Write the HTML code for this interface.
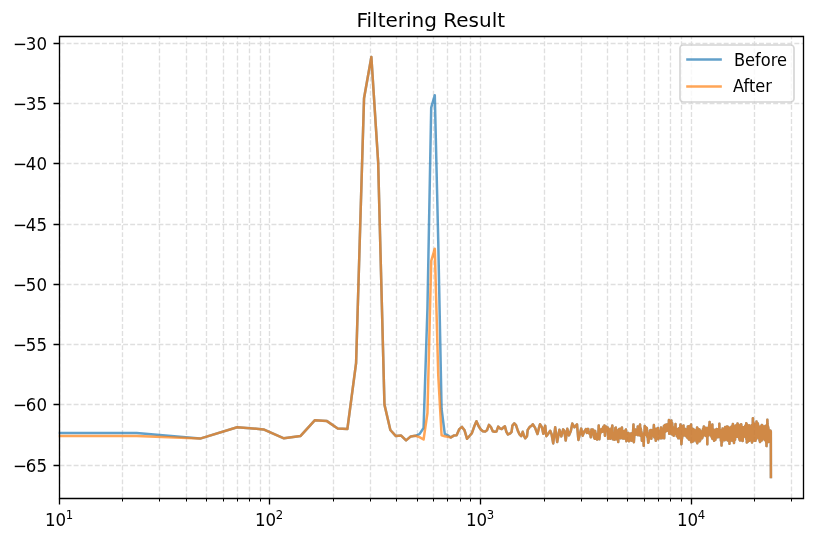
<!DOCTYPE html>
<html lang="en"><head><meta charset="utf-8"><title>Filtering Result</title>
<style>html,body{margin:0;padding:0;background:#fff}body{width:814px;height:542px;overflow:hidden}</style></head>
<body>
<svg width="814" height="542" viewBox="0 0 814 542" style="display:block" font-family="'DejaVu Sans','Liberation Sans',sans-serif">
<rect width="814" height="542" fill="#fff"/>
<defs><clipPath id="ax"><rect x="58.73" y="36.0" width="744.27" height="462.30"/></clipPath></defs>
<g clip-path="url(#ax)" stroke="#b0b0b0" stroke-opacity="0.4" stroke-width="1.333" stroke-dasharray="4.933 2.133" fill="none">
<path d="M59.5 498.5V36.5M269.5 498.5V36.5M480.5 498.5V36.5M691.5 498.5V36.5M122.5 498.5V36.5M159.5 498.5V36.5M186.5 498.5V36.5M206.5 498.5V36.5M223.5 498.5V36.5M237.5 498.5V36.5M249.5 498.5V36.5M260.5 498.5V36.5M333.5 498.5V36.5M370.5 498.5V36.5M396.5 498.5V36.5M417.5 498.5V36.5M433.5 498.5V36.5M447.5 498.5V36.5M460.5 498.5V36.5M470.5 498.5V36.5M544.5 498.5V36.5M581.5 498.5V36.5M607.5 498.5V36.5M627.5 498.5V36.5M644.5 498.5V36.5M658.5 498.5V36.5M670.5 498.5V36.5M681.5 498.5V36.5M754.5 498.5V36.5M791.5 498.5V36.5M59.5 43.5H803.5M59.5 103.5H803.5M59.5 163.5H803.5M59.5 224.5H803.5M59.5 284.5H803.5M59.5 344.5H803.5M59.5 404.5H803.5M59.5 465.5H803.5"/>
</g>
<g clip-path="url(#ax)">
<path d="M0.00 432.90L136.67 432.90L200.09 438.60L237.19 427.20L263.51 429.40L283.93 438.30L300.62 435.90L314.72 420.30L326.94 421.10L337.72 428.50L347.36 429.10L356.08 363.20L364.04 98.30L371.36 57.00L378.14 162.00L384.46 404.60L390.36 430.00L395.91 436.10L401.14 435.60L406.09 440.40L410.78 436.40L415.24 435.80L419.50 434.10L423.57 428.00L427.46 308.00L431.20 107.70L434.79 95.20L438.24 241.00L441.57 409.00L444.78 433.80L447.88 435.30L450.88 437.40L453.79 435.60L456.60 435.30L459.33 429.10L461.99 426.90L464.56 430.30L467.07 438.80L469.51 436.00L471.89 433.20L474.20 426.60L476.46 421.20L478.67 426.20L480.82 429.50L482.93 431.20L484.98 431.60L486.99 430.30L488.96 424.90L490.89 427.00L492.77 431.20L494.62 431.70L496.43 431.60L498.21 426.60L499.95 428.30L501.66 429.10L503.34 427.50L504.90 426.30L506.40 431.80L508.00 434.50L510.20 433.30L511.60 431.80L512.40 425.60L514.30 423.40L516.00 425.10L517.90 430.90L519.60 434.50L521.20 436.20L522.70 431.80L524.10 436.20L525.30 438.30L527.00 436.20L527.70 429.90L529.90 426.80L531.80 425.60L532.80 424.30L535.00 427.60L537.50 434.00L538.90 428.20L540.00 424.30L541.90 427.10L543.30 433.70L545.20 425.70L546.30 436.20L548.30 433.70L550.20 430.70L551.60 434.30L553.20 443.40L555.20 427.30L557.20 442.00L559.40 429.70L561.30 436.40L563.20 429.40L564.30 430.80L565.70 440.50L567.30 428.80L569.00 435.40L570.80 431.00L572.30 423.60L574.50 427.30L577.00 424.40L578.40 440.00L581.20 428.60L582.60 435.80L584.30 431.50L585.90 429.10L586.85 432.86L587.52 429.10L588.18 429.02L588.83 433.30L589.49 432.18L590.13 433.58L590.77 437.28L591.41 429.60L592.05 434.16L592.67 429.51L593.30 430.03L593.92 437.13L594.54 438.65L595.15 431.01L595.76 438.78L596.36 433.68L596.96 439.58L597.56 437.12L598.15 438.20L598.74 425.53L599.32 439.28L599.90 434.44L600.48 429.68L601.05 432.18L601.62 429.02L602.19 431.80L602.75 431.61L603.31 426.84L603.87 430.14L604.42 425.53L604.97 435.79L605.52 427.72L606.06 426.52L606.60 430.98L607.14 428.07L607.67 427.52L608.20 438.78L608.73 428.84L609.25 437.16L609.77 430.01L610.29 438.78L610.81 434.52L611.32 428.55L611.83 428.89L612.34 425.53L612.84 439.28L613.34 438.63L613.84 433.97L614.34 439.78L614.83 437.66L615.32 428.07L615.81 427.52L616.29 439.30L616.78 435.16L617.26 434.03L617.74 430.62L618.21 441.97L618.68 429.97L619.15 428.98L619.62 436.87L620.09 429.02L620.55 438.23L621.01 433.53L621.47 428.85L621.93 427.52L622.38 438.28L622.83 437.75L623.28 438.53L623.73 432.93L624.18 431.01L624.62 438.46L625.06 436.77L625.50 434.07L625.93 429.51L626.37 441.27L626.80 434.70L627.23 435.83L627.66 435.59L628.09 432.94L628.51 433.00L628.94 441.27L629.36 437.10L629.77 438.32L630.19 434.93L630.61 439.59L631.02 433.50L631.43 440.77L631.84 438.71L632.25 433.20L632.65 440.38L633.06 431.84L633.46 424.53L633.86 442.27L634.26 436.02L634.66 433.68L635.05 429.94L635.44 429.51L635.84 434.79L636.23 434.56L636.62 430.63L637.00 432.01L637.39 434.11L637.77 426.52L638.15 435.15L638.53 430.71L638.91 432.04L639.29 428.81L639.67 432.33L640.04 424.53L640.41 435.79L640.78 428.58L641.15 431.05L641.52 432.28L641.89 440.77L642.25 439.18L642.62 436.75L642.98 435.22L643.34 434.00L643.70 445.76L644.06 433.21L644.42 434.87L644.77 426.03L645.12 428.14L645.48 427.05L645.83 428.99L646.18 430.58L646.53 435.31L646.87 428.02L647.22 436.79L647.56 433.49L647.91 439.26L648.25 442.77L648.59 441.55L648.93 433.35L649.27 437.77L649.61 436.47L649.94 430.61L650.28 431.92L650.61 433.46L650.94 430.01L651.27 438.78L651.60 435.84L651.93 435.00L652.26 432.54L652.58 429.91L652.91 435.46L653.23 432.70L653.56 430.97L653.88 425.03L654.20 436.79L654.52 437.58L654.84 436.39L655.15 432.55L655.47 432.50L655.78 440.77L656.10 428.79L656.41 430.89L656.72 432.16L657.03 431.75L657.34 433.18L657.65 433.53L657.96 428.02L658.27 439.28L658.57 430.60L658.88 436.04L659.18 431.44L659.48 436.97L659.78 431.84L660.08 433.03L660.38 431.31L660.68 438.25L660.98 427.52L661.28 438.28L661.57 436.04L661.87 429.17L662.16 428.76L662.45 432.39L662.74 437.08L663.04 437.92L663.33 436.45L663.61 428.63L663.90 426.03L664.19 438.28L664.48 425.55L664.76 430.45L665.05 425.03L665.33 431.80L665.61 427.35L665.90 424.81L666.18 429.10L666.46 427.38L666.74 430.33L667.01 424.53L667.29 430.80L667.57 424.69L667.85 425.29L668.12 424.30L668.39 424.79L668.67 429.38L668.94 420.04L669.21 433.80L669.48 430.92L669.75 429.04L670.02 432.11L670.29 426.22L670.56 431.27L670.83 430.56L671.09 424.20L671.36 420.54L671.62 434.29L671.89 422.71L672.15 423.09L672.41 427.07L672.68 426.58L672.94 434.80L673.20 433.67L673.46 428.02L673.72 435.79L673.97 433.83L674.23 432.00L674.49 429.21L674.74 433.93L675.00 431.30L675.25 428.43L675.51 424.03L675.76 433.80L676.01 431.77L676.27 428.67L676.52 430.40L676.77 435.90L677.02 430.40L677.27 435.56L677.51 436.82L677.76 435.97L678.01 429.02L678.25 438.28L678.50 431.96L678.74 436.46L678.99 430.31L679.23 428.27L679.48 428.19L679.72 430.19L679.96 437.93L680.20 428.42L680.44 424.53L680.68 438.78L680.92 428.69L681.16 437.09L681.40 444.26L681.63 441.24L681.87 439.00L682.11 437.66L682.34 426.87L682.58 435.86L682.81 425.89L683.05 429.80L683.28 428.27L683.51 425.53L683.74 435.29L683.98 433.19L684.21 431.12L684.44 431.15L684.67 433.38L684.89 430.25L685.12 433.38L685.35 429.02L685.58 435.79L685.81 434.28L686.03 430.98L686.26 435.40L686.48 436.37L686.71 433.13L686.93 437.13L687.15 431.92L687.38 434.83L687.60 437.92L687.82 426.52L688.04 438.28L688.26 437.31L688.48 426.31L688.70 435.71L688.92 439.48L689.14 428.05L689.36 426.50L689.58 427.06L689.79 439.40L690.01 426.60L690.23 433.16L690.44 425.77L690.66 440.32L690.87 429.08L691.09 424.53L691.30 442.27L691.51 430.23L691.72 440.31L691.94 428.59L692.15 435.48L692.36 441.67L692.57 437.97L692.78 435.22L692.99 437.87L693.20 429.21L693.41 429.02L693.62 441.27L693.82 438.18L694.03 440.00L694.24 438.12L694.44 438.78L694.65 433.33L694.85 430.51L695.06 438.28L695.26 433.73L695.47 432.27L695.67 430.52L695.88 431.50L696.08 431.65L696.28 432.63L696.48 441.55L696.68 435.58L696.88 430.03L697.08 427.52L697.28 443.27L697.48 436.28L697.68 431.26L697.88 439.04L698.08 429.49L698.28 441.20L698.48 428.96L698.67 433.95L698.87 436.74L699.06 438.20L699.26 438.41L699.46 429.51L699.65 441.27L699.85 440.00L700.04 430.47L700.23 440.23L700.43 434.30L700.62 431.37L700.81 436.86L701.00 431.35L701.20 432.09L701.39 435.97L701.58 437.77L701.77 437.03L701.96 431.51L702.15 438.28L702.34 433.96L702.53 431.80L702.71 436.77L702.90 429.53L703.09 428.81L703.28 430.28L703.46 429.86L703.65 429.73L703.84 426.52L704.02 434.79L704.21 429.87L704.39 428.15L704.58 429.47L704.76 427.42L704.95 434.94L705.13 435.33L705.31 434.39L705.50 431.08L705.68 435.84L705.86 430.21L706.04 434.00L706.22 428.73L706.40 428.02L706.58 436.29L706.77 432.92L706.94 436.04L707.12 428.85L707.30 444.26L707.48 428.39L707.66 427.92L707.84 428.31L708.02 435.82L708.19 433.04L708.37 429.80L708.55 428.57L708.73 427.77L708.90 428.46L709.08 427.41L709.25 424.91L709.43 433.90L709.60 422.04L709.78 433.80L709.95 433.23L710.12 429.45L710.30 430.06L710.47 425.73L710.64 435.43L710.82 428.10L710.99 435.75L711.16 426.28L711.33 436.10L711.50 436.70L711.67 429.99L711.84 434.32L712.02 425.34L712.19 438.40L712.35 424.53L712.52 438.78L712.69 434.90L712.86 433.44L713.03 435.61L713.20 435.69L713.37 435.75L713.53 432.45L713.70 435.83L713.87 430.01L714.03 440.77L714.20 438.86L714.37 430.12L714.53 432.70L714.70 430.26L714.86 437.27L715.03 437.29L715.19 430.26L715.35 439.90L715.52 438.03L715.68 436.69L715.85 433.05L716.01 432.49L716.17 432.45L716.33 433.61L716.50 429.12L716.66 432.33L716.82 429.53L716.98 429.87L717.14 429.56L717.30 430.63L717.46 437.27L717.62 433.85L717.78 430.81L717.94 429.35L718.10 434.08L718.26 430.28L718.42 435.36L718.58 430.66L718.74 436.91L718.89 433.46L719.05 435.25L719.21 434.19L719.37 423.75L719.52 434.13L719.68 434.42L719.83 435.82L719.99 435.47L720.15 433.15L720.30 430.44L720.46 432.70L720.61 431.16L720.77 430.34L720.92 440.75L721.08 436.99L721.23 441.16L721.38 437.19L721.54 445.44L721.69 437.28L721.84 436.16L722.00 431.10L722.15 441.82L722.30 438.81L722.45 437.31L722.60 428.42L722.75 430.88L722.91 434.78L723.06 433.26L723.21 428.83L723.36 438.26L723.51 433.49L723.66 433.47L723.81 436.14L723.96 429.48L724.11 432.60L724.25 431.71L724.40 434.33L724.55 440.20L724.70 429.93L724.85 433.55L725.00 435.94L725.14 427.10L725.29 430.40L725.44 439.44L725.58 431.49L725.73 435.23L725.88 439.04L726.02 438.09L726.17 433.17L726.31 434.49L726.46 428.14L726.60 435.48L726.75 436.91L726.89 439.61L727.04 426.59L727.18 434.97L727.33 432.74L727.47 432.63L727.61 437.29L727.76 440.47L727.90 437.99L728.04 428.65L728.19 430.33L728.33 426.89L728.47 434.41L728.61 428.76L728.75 432.56L728.90 434.79L729.04 427.91L729.18 436.98L729.32 435.77L729.46 443.64L729.60 439.52L729.74 432.45L729.88 440.34L730.02 438.51L730.16 437.34L730.30 440.78L730.44 439.77L730.58 428.04L730.72 431.25L730.85 429.11L730.99 430.75L731.13 429.27L731.27 426.82L731.41 436.88L731.54 432.68L731.68 436.80L731.82 431.95L731.96 426.65L732.09 440.41L732.23 435.24L732.37 425.69L732.50 433.44L732.64 426.77L732.77 440.63L732.91 423.89L733.04 435.83L733.18 424.75L733.31 439.86L733.45 430.63L733.58 426.09L733.72 427.31L733.85 426.32L733.98 443.01L734.12 439.83L734.25 426.15L734.39 433.99L734.52 433.82L734.65 434.22L734.78 430.10L734.92 433.49L735.05 439.74L735.18 428.37L735.31 433.74L735.44 430.74L735.58 432.22L735.71 427.43L735.84 429.70L735.97 425.49L736.10 426.63L736.23 435.96L736.36 435.94L736.49 436.72L736.62 432.63L736.75 425.03L736.88 425.36L737.01 433.07L737.14 424.85L737.27 434.21L737.40 432.68L737.53 423.46L737.66 427.18L737.78 436.72L737.91 426.49L738.04 424.59L738.17 435.93L738.30 431.11L738.42 434.37L738.55 433.34L738.68 433.74L738.80 428.74L738.93 434.41L739.06 429.48L739.18 438.65L739.31 429.17L739.44 436.53L739.56 429.85L739.69 440.10L739.81 427.69L739.94 440.43L740.07 429.17L740.19 435.74L740.32 431.79L740.44 438.67L740.56 424.77L740.69 438.37L740.81 439.75L740.94 431.65L741.06 440.32L741.19 424.34L741.31 425.50L741.43 430.94L741.56 431.27L741.68 434.40L741.80 429.71L741.92 439.51L742.05 428.67L742.17 439.86L742.29 435.51L742.41 433.69L742.54 426.92L742.66 440.97L742.78 440.29L742.90 430.86L743.02 436.80L743.14 436.35L743.26 429.86L743.38 429.36L743.50 436.07L743.63 427.60L743.75 429.47L743.87 435.08L743.99 429.67L744.11 430.92L744.23 428.46L744.34 432.74L744.46 435.87L744.58 430.04L744.70 434.59L744.82 431.91L744.94 434.28L745.06 436.70L745.18 432.24L745.30 425.80L745.41 433.58L745.53 426.72L745.65 434.04L745.77 428.15L745.88 432.12L746.00 437.69L746.12 425.72L746.24 423.18L746.35 432.97L746.47 439.59L746.59 436.01L746.70 429.72L746.82 442.57L746.94 440.96L747.05 424.50L747.17 430.68L747.28 433.54L747.40 425.44L747.51 435.93L747.63 430.57L747.74 441.74L747.86 427.76L747.97 429.85L748.09 426.77L748.20 429.74L748.32 438.38L748.43 439.90L748.55 430.65L748.66 433.62L748.78 432.95L748.89 428.89L749.00 425.55L749.12 437.14L749.23 427.19L749.34 425.42L749.46 440.78L749.57 427.32L749.68 436.73L749.79 434.38L749.91 430.01L750.02 433.51L750.13 436.99L750.24 433.30L750.35 438.14L750.47 427.29L750.58 426.47L750.69 439.16L750.80 431.73L750.91 437.57L751.02 434.43L751.13 434.66L751.25 437.22L751.36 437.34L751.47 436.94L751.58 440.56L751.69 429.98L751.80 439.64L751.91 425.07L752.02 442.50L752.13 433.38L752.24 440.56L752.35 438.37L752.46 431.99L752.56 436.19L752.67 436.66L752.78 424.02L752.89 418.23L753.00 440.46L753.11 421.90L753.22 436.54L753.33 422.04L753.43 426.86L753.54 434.13L753.65 434.09L753.76 439.29L753.87 423.45L753.97 437.10L754.08 425.21L754.19 429.08L754.30 440.12L754.40 435.82L754.51 440.02L754.62 440.64L754.72 431.22L754.83 440.56L754.94 439.27L755.04 436.26L755.15 439.80L755.25 438.92L755.36 435.89L755.47 440.78L755.57 429.74L755.68 425.01L755.78 424.08L755.89 427.14L755.99 433.31L756.10 436.99L756.20 423.45L756.31 439.01L756.41 436.60L756.52 421.43L756.62 424.01L756.73 438.05L756.83 435.06L756.94 423.34L757.04 433.54L757.14 423.98L757.25 423.36L757.35 437.14L757.45 427.46L757.56 423.25L757.66 427.76L757.76 435.69L757.87 423.50L757.97 428.68L758.07 428.19L758.18 431.41L758.28 435.00L758.38 425.72L758.48 431.20L758.59 437.03L758.69 435.57L758.79 434.43L758.89 432.91L758.99 437.86L759.10 433.87L759.20 430.73L759.30 427.34L759.40 429.86L759.50 440.12L759.60 432.54L759.70 440.78L759.80 440.02L759.91 432.22L760.01 442.06L760.11 439.11L760.21 428.19L760.31 441.53L760.41 440.96L760.51 437.92L760.61 438.32L760.71 435.99L760.81 438.43L760.91 426.51L761.01 435.44L761.11 431.89L761.21 430.26L761.31 440.58L761.40 434.83L761.50 437.11L761.60 425.40L761.70 430.86L761.80 427.74L761.90 425.08L762.00 440.13L762.10 426.44L762.19 439.68L762.29 434.55L762.39 437.19L762.49 436.07L762.59 425.74L762.68 438.05L762.78 428.26L762.88 432.43L762.98 437.55L763.07 436.64L763.17 438.16L763.27 435.89L763.37 436.06L763.46 427.56L763.56 428.32L763.66 430.46L763.75 432.09L763.85 438.42L763.95 429.34L764.04 432.53L764.14 436.22L764.24 435.87L764.33 436.22L764.43 427.29L764.52 426.42L764.62 432.13L764.71 433.42L764.81 433.67L764.91 440.04L765.00 428.34L765.10 432.06L765.19 440.36L765.29 436.79L765.38 426.00L765.48 431.78L765.57 432.30L765.67 440.32L765.76 426.06L765.86 433.37L765.95 440.42L766.04 426.08L766.14 440.46L766.23 442.63L766.33 438.60L766.42 425.81L766.51 446.10L766.61 442.41L766.70 428.95L766.79 430.72L766.89 425.56L766.98 429.67L767.07 426.09L767.17 425.87L767.26 428.58L767.35 419.68L767.45 423.43L767.54 424.80L767.63 428.43L767.72 435.92L767.82 442.12L767.91 432.34L768.00 426.22L768.09 433.10L768.19 435.54L768.28 430.81L768.37 427.95L768.46 441.99L768.55 441.75L768.65 438.20L768.74 433.33L768.83 441.70L768.92 435.01L769.01 434.18L769.10 432.90L769.19 431.93L769.28 439.93L769.37 440.40L769.47 430.20L769.56 439.56L769.65 436.46L769.74 441.11L769.83 430.38L769.92 440.67L770.01 436.08L770.10 436.72L770.19 435.68L770.28 430.51L770.37 433.57L770.46 433.42L770.55 434.14L770.64 430.99L770.73 432.48L770.82 431.52L770.91 477.10" stroke="#1f77b4" fill="none" stroke-width="2.5" stroke-opacity="0.7" stroke-linejoin="round" stroke-linecap="square"/>
<path d="M0.00 436.00L136.67 436.00L200.09 438.60L237.19 427.20L263.51 429.40L283.93 438.30L300.62 435.90L314.72 420.30L326.94 421.10L337.72 428.50L347.36 429.10L356.08 363.20L364.04 98.30L371.36 57.00L378.14 162.00L384.46 404.60L390.36 430.00L395.91 436.10L401.14 435.60L406.09 440.40L410.78 436.40L415.24 435.80L419.50 437.10L423.57 439.50L427.46 413.00L431.20 261.00L434.79 248.70L438.24 375.00L441.57 435.30L444.78 436.20L447.88 436.80L450.88 437.40L453.79 435.60L456.60 435.30L459.33 429.10L461.99 426.90L464.56 430.30L467.07 438.80L469.51 436.00L471.89 433.20L474.20 426.60L476.46 421.20L478.67 426.20L480.82 429.50L482.93 431.20L484.98 431.60L486.99 430.30L488.96 424.90L490.89 427.00L492.77 431.20L494.62 431.70L496.43 431.60L498.21 426.60L499.95 428.30L501.66 429.10L503.34 427.50L504.90 426.30L506.40 431.80L508.00 434.50L510.20 433.30L511.60 431.80L512.40 425.60L514.30 423.40L516.00 425.10L517.90 430.90L519.60 434.50L521.20 436.20L522.70 431.80L524.10 436.20L525.30 438.30L527.00 436.20L527.70 429.90L529.90 426.80L531.80 425.60L532.80 424.30L535.00 427.60L537.50 434.00L538.90 428.20L540.00 424.30L541.90 427.10L543.30 433.70L545.20 425.70L546.30 436.20L548.30 433.70L550.20 430.70L551.60 434.30L553.20 443.40L555.20 427.30L557.20 442.00L559.40 429.70L561.30 436.40L563.20 429.40L564.30 430.80L565.70 440.50L567.30 428.80L569.00 435.40L570.80 431.00L572.30 423.60L574.50 427.30L577.00 424.40L578.40 440.00L581.20 428.60L582.60 435.80L584.30 431.50L585.90 429.10L586.85 432.86L587.52 429.10L588.18 429.02L588.83 433.30L589.49 432.18L590.13 433.58L590.77 437.28L591.41 429.60L592.05 434.16L592.67 429.51L593.30 430.03L593.92 437.13L594.54 438.65L595.15 431.01L595.76 438.78L596.36 433.68L596.96 439.58L597.56 437.12L598.15 438.20L598.74 425.53L599.32 439.28L599.90 434.44L600.48 429.68L601.05 432.18L601.62 429.02L602.19 431.80L602.75 431.61L603.31 426.84L603.87 430.14L604.42 425.53L604.97 435.79L605.52 427.72L606.06 426.52L606.60 430.98L607.14 428.07L607.67 427.52L608.20 438.78L608.73 428.84L609.25 437.16L609.77 430.01L610.29 438.78L610.81 434.52L611.32 428.55L611.83 428.89L612.34 425.53L612.84 439.28L613.34 438.63L613.84 433.97L614.34 439.78L614.83 437.66L615.32 428.07L615.81 427.52L616.29 439.30L616.78 435.16L617.26 434.03L617.74 430.62L618.21 441.97L618.68 429.97L619.15 428.98L619.62 436.87L620.09 429.02L620.55 438.23L621.01 433.53L621.47 428.85L621.93 427.52L622.38 438.28L622.83 437.75L623.28 438.53L623.73 432.93L624.18 431.01L624.62 438.46L625.06 436.77L625.50 434.07L625.93 429.51L626.37 441.27L626.80 434.70L627.23 435.83L627.66 435.59L628.09 432.94L628.51 433.00L628.94 441.27L629.36 437.10L629.77 438.32L630.19 434.93L630.61 439.59L631.02 433.50L631.43 440.77L631.84 438.71L632.25 433.20L632.65 440.38L633.06 431.84L633.46 424.53L633.86 442.27L634.26 436.02L634.66 433.68L635.05 429.94L635.44 429.51L635.84 434.79L636.23 434.56L636.62 430.63L637.00 432.01L637.39 434.11L637.77 426.52L638.15 435.15L638.53 430.71L638.91 432.04L639.29 428.81L639.67 432.33L640.04 424.53L640.41 435.79L640.78 428.58L641.15 431.05L641.52 432.28L641.89 440.77L642.25 439.18L642.62 436.75L642.98 435.22L643.34 434.00L643.70 445.76L644.06 433.21L644.42 434.87L644.77 426.03L645.12 428.14L645.48 427.05L645.83 428.99L646.18 430.58L646.53 435.31L646.87 428.02L647.22 436.79L647.56 433.49L647.91 439.26L648.25 442.77L648.59 441.55L648.93 433.35L649.27 437.77L649.61 436.47L649.94 430.61L650.28 431.92L650.61 433.46L650.94 430.01L651.27 438.78L651.60 435.84L651.93 435.00L652.26 432.54L652.58 429.91L652.91 435.46L653.23 432.70L653.56 430.97L653.88 425.03L654.20 436.79L654.52 437.58L654.84 436.39L655.15 432.55L655.47 432.50L655.78 440.77L656.10 428.79L656.41 430.89L656.72 432.16L657.03 431.75L657.34 433.18L657.65 433.53L657.96 428.02L658.27 439.28L658.57 430.60L658.88 436.04L659.18 431.44L659.48 436.97L659.78 431.84L660.08 433.03L660.38 431.31L660.68 438.25L660.98 427.52L661.28 438.28L661.57 436.04L661.87 429.17L662.16 428.76L662.45 432.39L662.74 437.08L663.04 437.92L663.33 436.45L663.61 428.63L663.90 426.03L664.19 438.28L664.48 425.55L664.76 430.45L665.05 425.03L665.33 431.80L665.61 427.35L665.90 424.81L666.18 429.10L666.46 427.38L666.74 430.33L667.01 424.53L667.29 430.80L667.57 424.69L667.85 425.29L668.12 424.30L668.39 424.79L668.67 429.38L668.94 420.04L669.21 433.80L669.48 430.92L669.75 429.04L670.02 432.11L670.29 426.22L670.56 431.27L670.83 430.56L671.09 424.20L671.36 420.54L671.62 434.29L671.89 422.71L672.15 423.09L672.41 427.07L672.68 426.58L672.94 434.80L673.20 433.67L673.46 428.02L673.72 435.79L673.97 433.83L674.23 432.00L674.49 429.21L674.74 433.93L675.00 431.30L675.25 428.43L675.51 424.03L675.76 433.80L676.01 431.77L676.27 428.67L676.52 430.40L676.77 435.90L677.02 430.40L677.27 435.56L677.51 436.82L677.76 435.97L678.01 429.02L678.25 438.28L678.50 431.96L678.74 436.46L678.99 430.31L679.23 428.27L679.48 428.19L679.72 430.19L679.96 437.93L680.20 428.42L680.44 424.53L680.68 438.78L680.92 428.69L681.16 437.09L681.40 444.26L681.63 441.24L681.87 439.00L682.11 437.66L682.34 426.87L682.58 435.86L682.81 425.89L683.05 429.80L683.28 428.27L683.51 425.53L683.74 435.29L683.98 433.19L684.21 431.12L684.44 431.15L684.67 433.38L684.89 430.25L685.12 433.38L685.35 429.02L685.58 435.79L685.81 434.28L686.03 430.98L686.26 435.40L686.48 436.37L686.71 433.13L686.93 437.13L687.15 431.92L687.38 434.83L687.60 437.92L687.82 426.52L688.04 438.28L688.26 437.31L688.48 426.31L688.70 435.71L688.92 439.48L689.14 428.05L689.36 426.50L689.58 427.06L689.79 439.40L690.01 426.60L690.23 433.16L690.44 425.77L690.66 440.32L690.87 429.08L691.09 424.53L691.30 442.27L691.51 430.23L691.72 440.31L691.94 428.59L692.15 435.48L692.36 441.67L692.57 437.97L692.78 435.22L692.99 437.87L693.20 429.21L693.41 429.02L693.62 441.27L693.82 438.18L694.03 440.00L694.24 438.12L694.44 438.78L694.65 433.33L694.85 430.51L695.06 438.28L695.26 433.73L695.47 432.27L695.67 430.52L695.88 431.50L696.08 431.65L696.28 432.63L696.48 441.55L696.68 435.58L696.88 430.03L697.08 427.52L697.28 443.27L697.48 436.28L697.68 431.26L697.88 439.04L698.08 429.49L698.28 441.20L698.48 428.96L698.67 433.95L698.87 436.74L699.06 438.20L699.26 438.41L699.46 429.51L699.65 441.27L699.85 440.00L700.04 430.47L700.23 440.23L700.43 434.30L700.62 431.37L700.81 436.86L701.00 431.35L701.20 432.09L701.39 435.97L701.58 437.77L701.77 437.03L701.96 431.51L702.15 438.28L702.34 433.96L702.53 431.80L702.71 436.77L702.90 429.53L703.09 428.81L703.28 430.28L703.46 429.86L703.65 429.73L703.84 426.52L704.02 434.79L704.21 429.87L704.39 428.15L704.58 429.47L704.76 427.42L704.95 434.94L705.13 435.33L705.31 434.39L705.50 431.08L705.68 435.84L705.86 430.21L706.04 434.00L706.22 428.73L706.40 428.02L706.58 436.29L706.77 432.92L706.94 436.04L707.12 428.85L707.30 444.26L707.48 428.39L707.66 427.92L707.84 428.31L708.02 435.82L708.19 433.04L708.37 429.80L708.55 428.57L708.73 427.77L708.90 428.46L709.08 427.41L709.25 424.91L709.43 433.90L709.60 422.04L709.78 433.80L709.95 433.23L710.12 429.45L710.30 430.06L710.47 425.73L710.64 435.43L710.82 428.10L710.99 435.75L711.16 426.28L711.33 436.10L711.50 436.70L711.67 429.99L711.84 434.32L712.02 425.34L712.19 438.40L712.35 424.53L712.52 438.78L712.69 434.90L712.86 433.44L713.03 435.61L713.20 435.69L713.37 435.75L713.53 432.45L713.70 435.83L713.87 430.01L714.03 440.77L714.20 438.86L714.37 430.12L714.53 432.70L714.70 430.26L714.86 437.27L715.03 437.29L715.19 430.26L715.35 439.90L715.52 438.03L715.68 436.69L715.85 433.05L716.01 432.49L716.17 432.45L716.33 433.61L716.50 429.12L716.66 432.33L716.82 429.53L716.98 429.87L717.14 429.56L717.30 430.63L717.46 437.27L717.62 433.85L717.78 430.81L717.94 429.35L718.10 434.08L718.26 430.28L718.42 435.36L718.58 430.66L718.74 436.91L718.89 433.46L719.05 435.25L719.21 434.19L719.37 423.75L719.52 434.13L719.68 434.42L719.83 435.82L719.99 435.47L720.15 433.15L720.30 430.44L720.46 432.70L720.61 431.16L720.77 430.34L720.92 440.75L721.08 436.99L721.23 441.16L721.38 437.19L721.54 445.44L721.69 437.28L721.84 436.16L722.00 431.10L722.15 441.82L722.30 438.81L722.45 437.31L722.60 428.42L722.75 430.88L722.91 434.78L723.06 433.26L723.21 428.83L723.36 438.26L723.51 433.49L723.66 433.47L723.81 436.14L723.96 429.48L724.11 432.60L724.25 431.71L724.40 434.33L724.55 440.20L724.70 429.93L724.85 433.55L725.00 435.94L725.14 427.10L725.29 430.40L725.44 439.44L725.58 431.49L725.73 435.23L725.88 439.04L726.02 438.09L726.17 433.17L726.31 434.49L726.46 428.14L726.60 435.48L726.75 436.91L726.89 439.61L727.04 426.59L727.18 434.97L727.33 432.74L727.47 432.63L727.61 437.29L727.76 440.47L727.90 437.99L728.04 428.65L728.19 430.33L728.33 426.89L728.47 434.41L728.61 428.76L728.75 432.56L728.90 434.79L729.04 427.91L729.18 436.98L729.32 435.77L729.46 443.64L729.60 439.52L729.74 432.45L729.88 440.34L730.02 438.51L730.16 437.34L730.30 440.78L730.44 439.77L730.58 428.04L730.72 431.25L730.85 429.11L730.99 430.75L731.13 429.27L731.27 426.82L731.41 436.88L731.54 432.68L731.68 436.80L731.82 431.95L731.96 426.65L732.09 440.41L732.23 435.24L732.37 425.69L732.50 433.44L732.64 426.77L732.77 440.63L732.91 423.89L733.04 435.83L733.18 424.75L733.31 439.86L733.45 430.63L733.58 426.09L733.72 427.31L733.85 426.32L733.98 443.01L734.12 439.83L734.25 426.15L734.39 433.99L734.52 433.82L734.65 434.22L734.78 430.10L734.92 433.49L735.05 439.74L735.18 428.37L735.31 433.74L735.44 430.74L735.58 432.22L735.71 427.43L735.84 429.70L735.97 425.49L736.10 426.63L736.23 435.96L736.36 435.94L736.49 436.72L736.62 432.63L736.75 425.03L736.88 425.36L737.01 433.07L737.14 424.85L737.27 434.21L737.40 432.68L737.53 423.46L737.66 427.18L737.78 436.72L737.91 426.49L738.04 424.59L738.17 435.93L738.30 431.11L738.42 434.37L738.55 433.34L738.68 433.74L738.80 428.74L738.93 434.41L739.06 429.48L739.18 438.65L739.31 429.17L739.44 436.53L739.56 429.85L739.69 440.10L739.81 427.69L739.94 440.43L740.07 429.17L740.19 435.74L740.32 431.79L740.44 438.67L740.56 424.77L740.69 438.37L740.81 439.75L740.94 431.65L741.06 440.32L741.19 424.34L741.31 425.50L741.43 430.94L741.56 431.27L741.68 434.40L741.80 429.71L741.92 439.51L742.05 428.67L742.17 439.86L742.29 435.51L742.41 433.69L742.54 426.92L742.66 440.97L742.78 440.29L742.90 430.86L743.02 436.80L743.14 436.35L743.26 429.86L743.38 429.36L743.50 436.07L743.63 427.60L743.75 429.47L743.87 435.08L743.99 429.67L744.11 430.92L744.23 428.46L744.34 432.74L744.46 435.87L744.58 430.04L744.70 434.59L744.82 431.91L744.94 434.28L745.06 436.70L745.18 432.24L745.30 425.80L745.41 433.58L745.53 426.72L745.65 434.04L745.77 428.15L745.88 432.12L746.00 437.69L746.12 425.72L746.24 423.18L746.35 432.97L746.47 439.59L746.59 436.01L746.70 429.72L746.82 442.57L746.94 440.96L747.05 424.50L747.17 430.68L747.28 433.54L747.40 425.44L747.51 435.93L747.63 430.57L747.74 441.74L747.86 427.76L747.97 429.85L748.09 426.77L748.20 429.74L748.32 438.38L748.43 439.90L748.55 430.65L748.66 433.62L748.78 432.95L748.89 428.89L749.00 425.55L749.12 437.14L749.23 427.19L749.34 425.42L749.46 440.78L749.57 427.32L749.68 436.73L749.79 434.38L749.91 430.01L750.02 433.51L750.13 436.99L750.24 433.30L750.35 438.14L750.47 427.29L750.58 426.47L750.69 439.16L750.80 431.73L750.91 437.57L751.02 434.43L751.13 434.66L751.25 437.22L751.36 437.34L751.47 436.94L751.58 440.56L751.69 429.98L751.80 439.64L751.91 425.07L752.02 442.50L752.13 433.38L752.24 440.56L752.35 438.37L752.46 431.99L752.56 436.19L752.67 436.66L752.78 424.02L752.89 418.23L753.00 440.46L753.11 421.90L753.22 436.54L753.33 422.04L753.43 426.86L753.54 434.13L753.65 434.09L753.76 439.29L753.87 423.45L753.97 437.10L754.08 425.21L754.19 429.08L754.30 440.12L754.40 435.82L754.51 440.02L754.62 440.64L754.72 431.22L754.83 440.56L754.94 439.27L755.04 436.26L755.15 439.80L755.25 438.92L755.36 435.89L755.47 440.78L755.57 429.74L755.68 425.01L755.78 424.08L755.89 427.14L755.99 433.31L756.10 436.99L756.20 423.45L756.31 439.01L756.41 436.60L756.52 421.43L756.62 424.01L756.73 438.05L756.83 435.06L756.94 423.34L757.04 433.54L757.14 423.98L757.25 423.36L757.35 437.14L757.45 427.46L757.56 423.25L757.66 427.76L757.76 435.69L757.87 423.50L757.97 428.68L758.07 428.19L758.18 431.41L758.28 435.00L758.38 425.72L758.48 431.20L758.59 437.03L758.69 435.57L758.79 434.43L758.89 432.91L758.99 437.86L759.10 433.87L759.20 430.73L759.30 427.34L759.40 429.86L759.50 440.12L759.60 432.54L759.70 440.78L759.80 440.02L759.91 432.22L760.01 442.06L760.11 439.11L760.21 428.19L760.31 441.53L760.41 440.96L760.51 437.92L760.61 438.32L760.71 435.99L760.81 438.43L760.91 426.51L761.01 435.44L761.11 431.89L761.21 430.26L761.31 440.58L761.40 434.83L761.50 437.11L761.60 425.40L761.70 430.86L761.80 427.74L761.90 425.08L762.00 440.13L762.10 426.44L762.19 439.68L762.29 434.55L762.39 437.19L762.49 436.07L762.59 425.74L762.68 438.05L762.78 428.26L762.88 432.43L762.98 437.55L763.07 436.64L763.17 438.16L763.27 435.89L763.37 436.06L763.46 427.56L763.56 428.32L763.66 430.46L763.75 432.09L763.85 438.42L763.95 429.34L764.04 432.53L764.14 436.22L764.24 435.87L764.33 436.22L764.43 427.29L764.52 426.42L764.62 432.13L764.71 433.42L764.81 433.67L764.91 440.04L765.00 428.34L765.10 432.06L765.19 440.36L765.29 436.79L765.38 426.00L765.48 431.78L765.57 432.30L765.67 440.32L765.76 426.06L765.86 433.37L765.95 440.42L766.04 426.08L766.14 440.46L766.23 442.63L766.33 438.60L766.42 425.81L766.51 446.10L766.61 442.41L766.70 428.95L766.79 430.72L766.89 425.56L766.98 429.67L767.07 426.09L767.17 425.87L767.26 428.58L767.35 419.68L767.45 423.43L767.54 424.80L767.63 428.43L767.72 435.92L767.82 442.12L767.91 432.34L768.00 426.22L768.09 433.10L768.19 435.54L768.28 430.81L768.37 427.95L768.46 441.99L768.55 441.75L768.65 438.20L768.74 433.33L768.83 441.70L768.92 435.01L769.01 434.18L769.10 432.90L769.19 431.93L769.28 439.93L769.37 440.40L769.47 430.20L769.56 439.56L769.65 436.46L769.74 441.11L769.83 430.38L769.92 440.67L770.01 436.08L770.10 436.72L770.19 435.68L770.28 430.51L770.37 433.57L770.46 433.42L770.55 434.14L770.64 430.99L770.73 432.48L770.82 431.52L770.91 477.10" stroke="#ff7f0e" fill="none" stroke-width="2.5" stroke-opacity="0.7" stroke-linejoin="round" stroke-linecap="square"/>
</g>
<path d="M59.5 498.5V36.5M803.5 498.5V36.5M59.5 498.5H803.5M59.5 36.5H803.5" stroke="#000" stroke-width="1.333" stroke-linecap="square" fill="none"/>
<path d="M59.5 498.5v6M269.5 498.5v6M480.5 498.5v6M691.5 498.5v6M59.5 43.5h-6M59.5 103.5h-6M59.5 163.5h-6M59.5 224.5h-6M59.5 284.5h-6M59.5 344.5h-6M59.5 404.5h-6M59.5 465.5h-6" stroke="#000" stroke-width="1.333" fill="none"/>
<path d="M122.5 498.5v3M159.5 498.5v3M186.5 498.5v3M206.5 498.5v3M223.5 498.5v3M237.5 498.5v3M249.5 498.5v3M260.5 498.5v3M333.5 498.5v3M370.5 498.5v3M396.5 498.5v3M417.5 498.5v3M433.5 498.5v3M447.5 498.5v3M460.5 498.5v3M470.5 498.5v3M544.5 498.5v3M581.5 498.5v3M607.5 498.5v3M627.5 498.5v3M644.5 498.5v3M658.5 498.5v3M670.5 498.5v3M681.5 498.5v3M754.5 498.5v3M791.5 498.5v3" stroke="#000" stroke-width="1" fill="none"/>
<g font-size="16.67" fill="#000">
<text transform="translate(45.9 49.50) scale(1 1.07)" text-anchor="end"><tspan dx="1.1">−</tspan><tspan dx="-1.1">30</tspan></text>
<text transform="translate(45.9 109.50) scale(1 1.07)" text-anchor="end"><tspan dx="1.1">−</tspan><tspan dx="-1.1">35</tspan></text>
<text transform="translate(45.9 169.50) scale(1 1.07)" text-anchor="end"><tspan dx="1.1">−</tspan><tspan dx="-1.1">40</tspan></text>
<text transform="translate(45.9 230.50) scale(1 1.07)" text-anchor="end"><tspan dx="1.1">−</tspan><tspan dx="-1.1">45</tspan></text>
<text transform="translate(45.9 290.50) scale(1 1.07)" text-anchor="end"><tspan dx="1.1">−</tspan><tspan dx="-1.1">50</tspan></text>
<text transform="translate(45.9 350.50) scale(1 1.07)" text-anchor="end"><tspan dx="1.1">−</tspan><tspan dx="-1.1">55</tspan></text>
<text transform="translate(45.9 410.50) scale(1 1.07)" text-anchor="end"><tspan dx="1.1">−</tspan><tspan dx="-1.1">60</tspan></text>
<text transform="translate(45.9 471.50) scale(1 1.07)" text-anchor="end"><tspan dx="1.1">−</tspan><tspan dx="-1.1">65</tspan></text>
<text transform="translate(45.00 525.6) scale(1 1.07)">10</text>
<text x="65.75" y="518.7" font-size="11.67">1</text>
<text transform="translate(255.00 525.6) scale(1 1.07)">10</text>
<text x="275.75" y="518.7" font-size="11.67">2</text>
<text transform="translate(466.00 525.6) scale(1 1.07)">10</text>
<text x="486.75" y="518.7" font-size="11.67">3</text>
<text transform="translate(677.00 525.6) scale(1 1.07)">10</text>
<text x="697.75" y="518.7" font-size="11.67">4</text>
</g>
<text x="430.8" y="27" font-size="20" text-anchor="middle" fill="#000">Filtering Result</text>
<rect x="680.0" y="45.0" width="114.00" height="57.00" rx="3.33" ry="3.33" fill="#fff" stroke="#ccc" stroke-width="1.667" opacity="0.8"/>
<path d="M687.45 59.5H720.6" stroke="#1f77b4" stroke-width="2.5" stroke-opacity="0.7" stroke-linecap="square"/>
<path d="M687.45 86.5H720.6" stroke="#ff7f0e" stroke-width="2.5" stroke-opacity="0.7" stroke-linecap="square"/>
<text transform="translate(733.9 65.8) scale(0.975 1.07)" font-size="16.67" fill="#000">Before</text>
<text transform="translate(733.1 91.5) scale(0.972 1.07)" font-size="16.67" fill="#000">After</text>
</svg>
</body></html>
